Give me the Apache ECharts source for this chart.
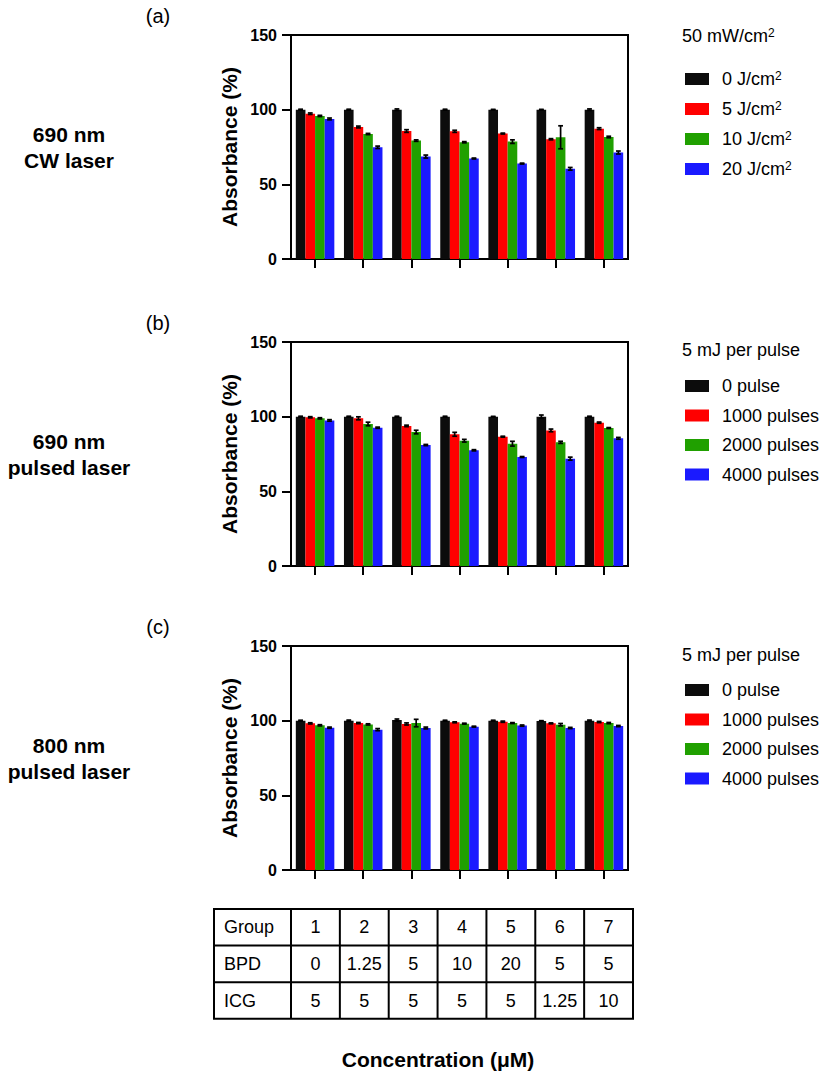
<!DOCTYPE html>
<html lang="en">
<head>
<meta charset="UTF-8">
<title>Absorbance</title>
<script src="https://cdn.jsdelivr.net/npm/echarts@6/dist/echarts.min.js"></script>
<style>
  html, body { margin: 0; padding: 0; background: #fff; }
  #main { width: 819px; height: 1073px; }
</style>
</head>
<body>
<div id="main"></div>
<script>
// groups 1..7 on the x axis
const groups = ['1', '2', '3', '4', '5', '6', '7'];
const bpdConc = ['0', '1.25', '5', '10', '20', '5', '5'];
const icgConc = ['5', '5', '5', '5', '5', '1.25', '10'];

const cwNames = ['0 J/cm²', '5 J/cm²', '10 J/cm²', '20 J/cm²'];
const pulseNames = ['0 pulse', '1000 pulses', '2000 pulses', '4000 pulses'];

// (a) 690 nm CW laser, one row per dose
const cwMean = [
  [100, 100, 100, 100, 100, 100, 100],
  [97.3, 88.4, 85.7, 85.5, 84.0, 80.2, 87.3],
  [95.8, 83.7, 79.3, 78.2, 78.6, 81.5, 81.7],
  [93.8, 74.8, 68.6, 67.3, 63.9, 60.4, 71.3]
];
const cwErr = [
  [0.3, 0.3, 0.5, 0.3, 0.2, 0.2, 0.5],
  [0.5, 0.6, 0.9, 0.7, 0.3, 0.4, 0.6],
  [0.4, 0.4, 0.5, 0.4, 1.2, 7.7, 0.5],
  [0.6, 0.8, 1.0, 0.3, 0.3, 0.9, 1.0]
];

// (b) 690 nm pulsed laser
const p690Mean = [
  [100, 100, 100, 100, 100, 100, 100],
  [99.6, 98.9, 93.8, 88.2, 86.6, 90.8, 96.0],
  [98.9, 95.1, 89.7, 83.9, 81.9, 82.8, 92.4],
  [97.5, 92.6, 81.0, 77.5, 73.0, 71.9, 85.5]
];
const p690Err = [
  [0.3, 0.3, 0.3, 0.3, 0.2, 1.1, 0.3],
  [0.4, 1.0, 0.5, 1.3, 0.3, 0.9, 0.4],
  [0.4, 1.2, 1.2, 0.9, 1.6, 0.7, 0.3],
  [0.5, 0.4, 0.4, 0.4, 0.3, 1.0, 0.6]
];

// (c) 800 nm pulsed laser
const p800Mean = [
  [100, 100, 100.4, 100, 100, 99.8, 100],
  [98.2, 98.4, 97.8, 98.9, 99.3, 98.2, 99.1],
  [96.9, 97.5, 98.4, 98.0, 98.4, 97.3, 98.4],
  [95.3, 94.0, 95.1, 96.0, 96.7, 95.1, 96.4]
];
const p800Err = [
  [0.3, 0.4, 0.7, 0.3, 0.3, 0.2, 0.4],
  [0.4, 0.4, 0.7, 0.3, 0.4, 0.3, 0.4],
  [0.4, 0.4, 2.5, 0.3, 0.3, 0.8, 0.4],
  [0.4, 0.7, 0.6, 0.3, 0.4, 0.4, 0.4]
];

const yTicks = [0, 50, 100, 150];

const FONT = '"Liberation Sans", Arial, Helvetica, sans-serif';
const colors = ['#0c0c0c', '#ff0000', '#20a000', '#1a1aff'];

const panels = [
  { tag: '(a)', side: '690 nm\nCW laser', head: '50 mW/cm²', names: cwNames, mean: cwMean, err: cwErr,
    top: 35, headTop: 27, legendTop: 65, legendGap: 12 },
  { tag: '(b)', side: '690 nm\npulsed laser', head: '5 mJ per pulse', names: pulseNames, mean: p690Mean, err: p690Err,
    top: 342, headTop: 341, legendTop: 372, legendGap: 11.5 },
  { tag: '(c)', side: '800 nm\npulsed laser', head: '5 mJ per pulse', names: pulseNames, mean: p800Mean, err: p800Err,
    top: 646, headTop: 646, legendTop: 676, legendGap: 11.5 }
];

const plotLeft = 291, plotW = 337, plotH = 224;

// squared units get a real raised "2"
const supRich = { sup: { fontFamily: FONT, fontSize: 12, lineHeight: 18, verticalAlign: 'top', color: '#000', padding: [0, 0, 6, 0] } };
const withSup = s => s.replace('²', '{sup|2}');

function errorBar(params, api) {
  const g = api.value(0), k = api.value(1), m = api.value(2), e = api.value(3);
  const bw = api.size([1, 0])[0] * 0.8 / 4;
  const cx = api.coord([g, m])[0] + (k - 1.5) * bw;
  const yHi = api.coord([g, m + e])[1];
  const yLo = api.coord([g, m - e])[1];
  const cap = 2.4;
  const st = { stroke: '#000', lineWidth: 1.7 };
  return {
    type: 'group',
    children: [
      { type: 'line', shape: { x1: cx, y1: yHi, x2: cx, y2: yLo }, style: st },
      { type: 'line', shape: { x1: cx - cap, y1: yHi, x2: cx + cap, y2: yHi }, style: st },
      { type: 'line', shape: { x1: cx - cap, y1: yLo, x2: cx + cap, y2: yLo }, style: st }
    ]
  };
}

const grid = [], xAxis = [], yAxis = [], series = [], legend = [], title = [], graphic = [];
const axisLine = { show: true, lineStyle: { color: '#000', width: 2 } };

panels.forEach((p, pi) => {
  grid.push({ left: plotLeft, top: p.top, width: plotW, height: plotH,
    show: true, borderColor: '#000', borderWidth: 2, backgroundColor: 'transparent' });
  xAxis.push({
    type: 'category', gridIndex: pi, data: groups,
    axisLine: axisLine,
    axisTick: { show: true, alignWithLabel: true, length: 9, lineStyle: { color: '#000', width: 2 } },
    axisLabel: { show: false }, splitLine: { show: false }
  });
  yAxis.push({
    type: 'value', gridIndex: pi, min: yTicks[0], max: yTicks[yTicks.length - 1], interval: 50,
    name: 'Absorbance (%)', nameLocation: 'middle', nameGap: 51,
    nameTextStyle: { fontFamily: FONT, fontSize: 21, fontWeight: 'bold', color: '#000' },
    axisLine: axisLine,
    axisTick: { show: true, length: 9, lineStyle: { color: '#000', width: 2 } },
    axisLabel: { fontFamily: FONT, fontSize: 16, fontWeight: 'bold', color: '#000', margin: 14 },
    splitLine: { show: false }
  });
  p.names.forEach((name, k) => {
    series.push({
      type: 'bar', name: name, xAxisIndex: pi, yAxisIndex: pi,
      data: p.mean[k], barGap: '0%', barCategoryGap: '20%',
      itemStyle: { color: colors[k] }, z: 2
    });
  });
  const errData = [];
  groups.forEach((g, gi) => {
    p.names.forEach((n, k) => errData.push([gi, k, p.mean[k][gi], p.err[k][gi]]));
  });
  series.push({ type: 'custom', xAxisIndex: pi, yAxisIndex: pi, data: errData,
    encode: { x: 0, y: 2 }, renderItem: errorBar, z: 5, silent: true });

  legend.push({
    orient: 'vertical', left: 680, top: p.legendTop, data: p.names,
    icon: 'rect', itemWidth: 24, itemHeight: 12, itemGap: p.legendGap,
    selectedMode: false,
    formatter: withSup,
    textStyle: { fontFamily: FONT, fontSize: 18, color: '#000', lineHeight: 18, padding: [0, 0, 0, 8], rich: supRich }
  });
  title.push({ text: withSup(p.head), left: 682, top: p.headTop, padding: 0,
    textStyle: { fontFamily: FONT, fontSize: 18, fontWeight: 'normal', color: '#000', lineHeight: 18, rich: supRich } });

  graphic.push({ type: 'text', x: 158, y: p.top - 19,
    style: { text: p.tag, fontFamily: FONT, fontSize: 20, fill: '#000', align: 'center', verticalAlign: 'middle' } });
  graphic.push({ type: 'text', x: 69, y: p.top + plotH / 2,
    style: { text: p.side, fontFamily: FONT, fontSize: 21, fontWeight: 'bold', fill: '#000',
      align: 'center', verticalAlign: 'middle', lineHeight: 26 } });
});

// concentration table under the plots
const tableRows = [['Group'].concat(groups), ['BPD'].concat(bpdConc), ['ICG'].concat(icgConc)];
const tLeft = 214, tRight = 633, tTop = 909, rowH = 36.6, firstColW = 77;
const colW = (tRight - tLeft - firstColW) / groups.length;
const colX = [tLeft, tLeft + firstColW];
for (let i = 1; i <= groups.length; i++) colX.push(tLeft + firstColW + i * colW);
const lineSt = { stroke: '#000', lineWidth: 2 };
for (let r = 0; r <= tableRows.length; r++) {
  const y = tTop + r * rowH;
  graphic.push({ type: 'line', shape: { x1: tLeft - 1, y1: y, x2: tRight + 1, y2: y }, style: lineSt });
}
colX.forEach(x => graphic.push({ type: 'line',
  shape: { x1: x, y1: tTop, x2: x, y2: tTop + tableRows.length * rowH }, style: lineSt }));
tableRows.forEach((row, r) => {
  const y = tTop + (r + 0.5) * rowH;
  row.forEach((cell, c) => {
    const first = c === 0;
    graphic.push({ type: 'text', x: first ? tLeft + 10 : (colX[c] + colX[c + 1]) / 2, y: y,
      style: { text: cell, fontFamily: FONT, fontSize: 18, fill: '#000',
        align: first ? 'left' : 'center', verticalAlign: 'middle' } });
  });
});
graphic.push({ type: 'text', x: 438, y: 1059,
  style: { text: 'Concentration (\u03bcM)', fontFamily: FONT, fontSize: 21, fontWeight: 'bold', fill: '#000',
    align: 'center', verticalAlign: 'middle' } });

const chart = echarts.init(document.getElementById('main'), null, { renderer: 'svg' });
chart.setOption({
  animation: false,
  backgroundColor: '#fff',
  title: title,
  legend: legend,
  grid: grid,
  xAxis: xAxis,
  yAxis: yAxis,
  series: series,
  graphic: graphic
});
</script>
</body>
</html>
